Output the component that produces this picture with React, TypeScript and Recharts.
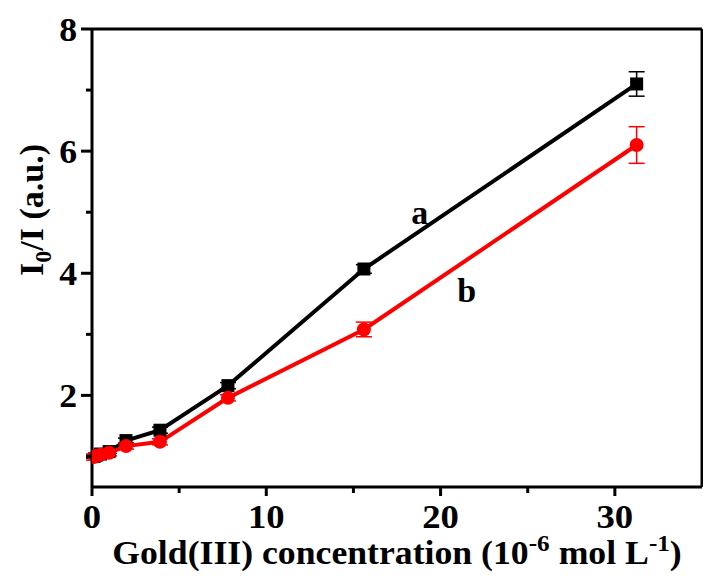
import {
  ComposedChart, Line, XAxis, YAxis, ErrorBar, ReferenceLine, ReferenceDot,
} from "recharts";

const concentration = [0.12, 0.24, 0.49, 0.98, 1.95, 3.9, 7.8, 15.6, 31.25];
const seriesA = [1.0, 1.02, 1.04, 1.08, 1.26, 1.43, 2.16, 4.07, 7.1];
const errorA = [0.03, 0.03, 0.03, 0.03, 0.04, 0.05, 0.05, 0.07, 0.2];
const seriesB = [0.99, 1.01, 1.03, 1.06, 1.17, 1.24, 1.96, 3.08, 6.1];
const errorB = [0.05, 0.05, 0.05, 0.05, 0.05, 0.05, 0.05, 0.12, 0.3];

const xTicks = [0, 5, 10, 15, 20, 25, 30];
const yTicks = [1, 2, 3, 4, 5, 6, 7, 8];

// curve labels placed in data units
const curveLabels = [
  { name: "a", x: 18.8, y: 5.0 },
  { name: "b", x: 21.5, y: 3.72 },
];

const data = concentration.map((c, i) => ({
  c, a: seriesA[i], aErr: errorA[i], b: seriesB[i], bErr: errorB[i],
}));

const FONT = "'Liberation Serif', 'Times New Roman', serif";

function XTick({ x, y, payload }: any) {
  const major = payload.value % 10 === 0;
  return (
    <g>
      <line x1={x} x2={x} y1={y} y2={y + (major ? 9 : 6)} stroke="#000" strokeWidth={3} />
      {major && (
        <text transform={`translate(${x} ${y + 41}) scale(1.08 1)`} textAnchor="middle"
          fontFamily={FONT} fontWeight="bold" fontSize={34} fill="#000">
          {payload.value}
        </text>
      )}
    </g>
  );
}

function YTick({ x, y, payload }: any) {
  const major = payload.value % 2 === 0;
  return (
    <g>
      <line x1={x} x2={x - (major ? 11 : 6)} y1={y} y2={y} stroke="#000" strokeWidth={3} />
      {major && (
        <text transform={`translate(${x - 15} ${y}) scale(1.05 1)`} dy="0.35em" textAnchor="end"
          fontFamily={FONT} fontWeight="bold" fontSize={34} fill="#000">
          {payload.value}
        </text>
      )}
    </g>
  );
}

function SquareDot({ cx, cy }: any) {
  return <rect x={cx - 6.5} y={cy - 6.5} width={13} height={13} fill="#000" />;
}

function CircleDot({ cx, cy }: any) {
  return <circle cx={cx} cy={cy} r={7} fill="#ff0000" />;
}

export default function App() {
  return (
    <div style={{ position: "absolute", left: 0, top: 0, background: "#fff" }}>
      <ComposedChart width={703} height={576} data={data}
        margin={{ top: 29, right: 1, left: 0, bottom: 0 }}>
        <XAxis dataKey="c" type="number" domain={[0, 35]} ticks={xTicks}
          allowDataOverflow height={89} tickSize={0} tickMargin={0}
          tick={<XTick />} axisLine={{ stroke: "#000", strokeWidth: 3 }}
          label={{
            position: "insideBottom",
            content: () => (
              <text transform="translate(397 564) scale(1.05 1)" textAnchor="middle"
                fontFamily={FONT} fontWeight="bold" fontSize={34} fill="#000">
                Gold(III) concentration (10
                <tspan fontSize={24} dy={-13}>-6</tspan>
                <tspan dy={13}> mol L</tspan>
                <tspan fontSize={24} dy={-13}>-1</tspan>
                <tspan dy={13}>)</tspan>
              </text>
            ),
          }} />
        <YAxis type="number" domain={[0.5, 8]} ticks={yTicks} allowDataOverflow
          width={92} tickSize={0} tickMargin={0} tick={<YTick />}
          axisLine={{ stroke: "#000", strokeWidth: 3 }}
          label={{
            position: "insideLeft",
            content: () => (
              <text x={43} y={210} transform="rotate(-90 43 210)" textAnchor="middle"
                fontFamily={FONT} fontWeight="bold" fontSize={34} fill="#000">
                I
                <tspan fontSize={24} dy={8}>0</tspan>
                <tspan dy={-8}>/I (a.u.)</tspan>
              </text>
            ),
          }} />
        <ReferenceLine y={8} stroke="#000" strokeWidth={3} />
        <ReferenceLine x={35} stroke="#000" strokeWidth={3} />
        <Line dataKey="a" stroke="#000" strokeWidth={4} dot={<SquareDot />}
          isAnimationActive={false}>
          <ErrorBar dataKey="aErr" direction="y" width={8} stroke="#000" strokeWidth={1.5} />
        </Line>
        <Line dataKey="b" stroke="#ff0000" strokeWidth={4} dot={<CircleDot />}
          isAnimationActive={false}>
          <ErrorBar dataKey="bErr" direction="y" width={8} stroke="#ff0000" strokeWidth={1.5} />
        </Line>
        {curveLabels.map((l) => (
          <ReferenceDot key={l.name} x={l.x} y={l.y} r={0} stroke="none"
            label={{ value: l.name, position: "center", fontFamily: FONT, fontWeight: "bold", fontSize: 34, fill: "#000" }} />
        ))}
      </ComposedChart>
    </div>
  );
}
